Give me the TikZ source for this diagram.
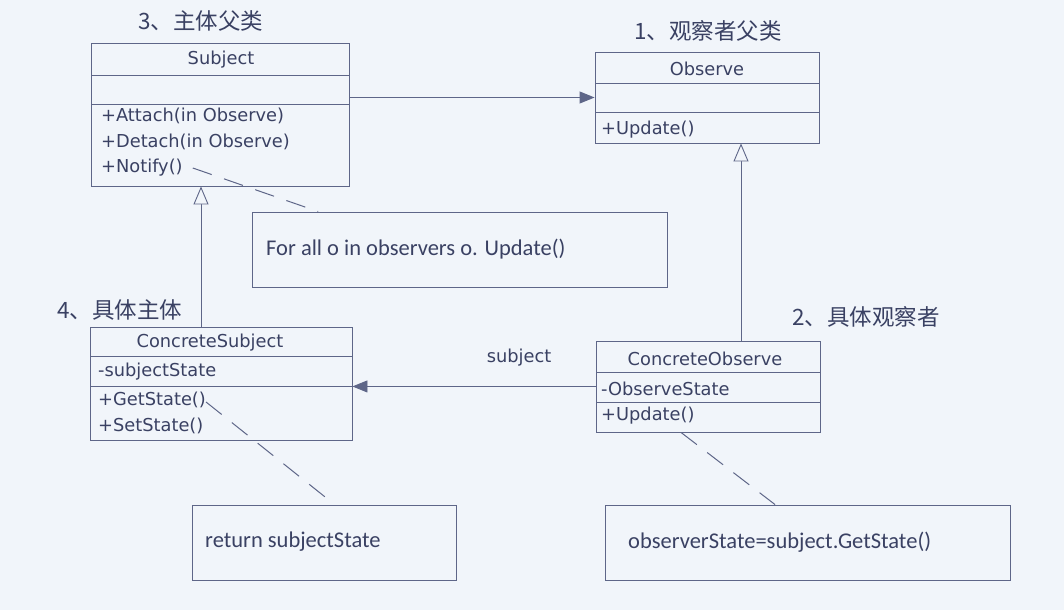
\documentclass[tikz,border=0pt]{standalone}
\usepackage{fontspec}
\setmainfont{DejaVu Sans}
\newfontfamily\cjkfont{Noto Sans CJK SC}
\newfontfamily\notefont{Carlito}
\usetikzlibrary{arrows.meta,calc}
\definecolor{bgc}{HTML}{F1F5FA}
\definecolor{linec}{HTML}{5E6688}
\definecolor{txtc}{HTML}{3A4163}
\tikzset{
  comp/.style={draw=linec, line width=0.9pt, inner sep=0pt},
  member/.style={anchor=west, inner sep=0pt, text=txtc, font=\fontsize{17.8}{19}\selectfont},
  cname/.style={inner sep=0pt, text=txtc, font=\fontsize{17.8}{19}\selectfont},
  title/.style={inner sep=0pt, text=txtc, font=\cjkfont\fontsize{22.5}{24}\selectfont},
  notebox/.style={draw=linec, line width=0.9pt, inner sep=0pt},
  notetext/.style={anchor=west, inner sep=0pt, text=txtc, font=\notefont\fontsize{22.5}{24}\selectfont},
  assoc/.style={draw=linec, line width=0.9pt, -{Triangle[length=15pt,width=12pt]}},
  gen/.style={draw=linec, line width=0.9pt, -{Triangle[open,length=18pt,width=15pt,fill=bgc]}},
  dashline/.style={draw=linec, line width=1pt, dash pattern=on 20pt off 13pt}
}
\begin{document}
\begin{tikzpicture}[x=1pt,y=-1pt]
\fill[bgc] (0,0) rectangle (1064,610);
\useasboundingbox (0,0) rectangle (1064,610);

% Subject
\node[comp, minimum width=258, minimum height=32] (sname) at (220,59) {};
\node[comp, minimum width=258, minimum height=29] (sattr) at (220,89.5) {};
\node[comp, minimum width=258, minimum height=82] (sops) at (220,145) {};
\node[cname] (snamet) at (221,60) {Subject};
\node[member] (s1) at (101,116) {+Attach(in Observe)};
\node[member] (s2) at (101,142) {+Detach(in Observe)};
\node[member] (s3) at (101,168) {+Notify()};

% Observe
\node[comp, minimum width=224, minimum height=31] (oname) at (707,67.5) {};
\node[comp, minimum width=224, minimum height=29] (oattr) at (707,97.5) {};
\node[comp, minimum width=224, minimum height=31] (oops) at (707,127.5) {};
\node[cname] (onamet) at (707,69) {Observe};
\node[member] (o1) at (601,130) {+Update()};

% ConcreteSubject
\node[comp, minimum width=262, minimum height=29] (csname) at (221,341.5) {};
\node[comp, minimum width=262, minimum height=30] (csattr) at (221,371) {};
\node[comp, minimum width=262, minimum height=54] (csops) at (221,413) {};
\node[cname] (csnamet) at (210,343) {ConcreteSubject};
\node[member] (cs1) at (98,372) {-subjectState};
\node[member] (cs2) at (98,400) {+GetState()};
\node[member] (cs3) at (98,426) {+SetState()};

% ConcreteObserve
\node[comp, minimum width=224, minimum height=31] (coname) at (708,356.5) {};
\node[comp, minimum width=224, minimum height=30] (coattr) at (708,387) {};
\node[comp, minimum width=224, minimum height=30] (coops) at (708,417) {};
\node[cname] (conamet) at (705,359) {ConcreteObserve};
\node[member] (co1) at (601,389) {-ObserveState};
\node[member] (co2) at (601,416) {+Update()};

% Titles
\node[title] (t3) at (201,21) {3、主体父类};
\node[title] (t1) at (708,31) {1、观察者父类};
\node[title] (t4) at (120,310) {4、具体主体};
\node[title] (t2) at (866,317) {2、具体观察者};

% Notes
\node[notebox, minimum width=415, minimum height=75] (n1) at (459.5,249.5) {};
\node[notetext] (n1t) at (266,249) {For all o in observers o. Update()};
\node[notebox, minimum width=264, minimum height=75] (n2) at (324,542.5) {};
\node[notetext] (n2t) at (205,542) {return subjectState};
\node[notebox, minimum width=405, minimum height=75] (n3) at (807.5,542.5) {};
\node[notetext] (n3t) at (628,542) {observerState=subject.GetState()};

% Connectors
\draw[assoc] (sattr.east |- oattr.west) -- (oattr.west);
\draw[assoc] (coattr.west |- csattr.south east) -- (csattr.south east);
\node[cname] (subjlbl) at (519,358) {subject};
\coordinate (g1) at (201,0);
\coordinate (g2) at (741,0);
\draw[gen] (csname.north -| g1) -- (sops.south -| g1);
\draw[gen] (coname.north -| g2) -- (oops.south -| g2);

\draw[dashline] ($(s3.east)+(10,0)$) -- ($(n1.north west)!0.16!(n1.north east)$);
\draw[dashline] ($(cs2.east)+(0,2)$) -- ($(n2.north west)!0.54!(n2.north east)$);
\draw[dashline] ($(coops.south west)!0.38!(coops.south east)$) -- ($(n3.north west)!0.42!(n3.north east)$);
\end{tikzpicture}
\end{document}
